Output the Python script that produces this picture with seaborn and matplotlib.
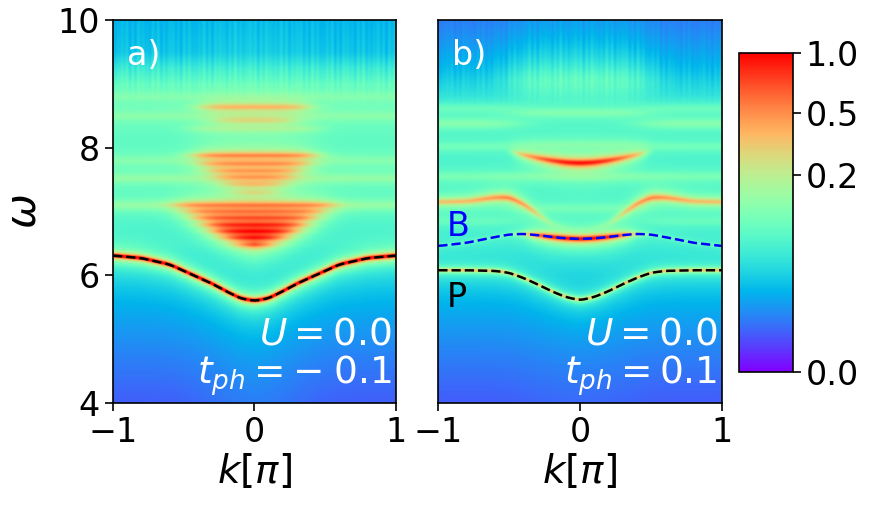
import numpy as np
import seaborn as sns
import matplotlib.pyplot as plt
from matplotlib.colors import PowerNorm

# band positions at |k| (units of pi); both panels are symmetric in k
k_half = [0.0, 0.1, 0.2, 0.3, 0.4, 0.5, 0.6, 0.8, 1.0]

# panel a) t_ph = -0.1
a_polaron = [5.60, 5.64, 5.75, 5.87, 5.97, 6.07, 6.17, 6.27, 6.31]
a_fan_low_omega = [6.48, 6.59, 6.69, 6.79, 6.90, 7.00, 7.10]
a_fan_low_width = [0.08, 0.17, 0.25, 0.32, 0.40, 0.47, 0.55]
a_fan_low_amp = [0.60, 0.70, 0.70, 0.60, 0.45, 0.33, 0.32]
a_fan_mid_omega = [7.30, 7.43, 7.54, 7.64, 7.75, 7.88]
a_fan_mid_width = [0.13, 0.19, 0.25, 0.30, 0.36, 0.41]
a_fan_mid_amp = [0.14, 0.20, 0.24, 0.27, 0.30, 0.38]
a_fan_top_omega = [8.30, 8.43, 8.64]
a_fan_top_width = [0.45, 0.25, 0.36]
a_fan_top_amp = [0.07, 0.16, 0.28]
a_flat_omega = [7.10, 7.52, 7.80, 8.50, 8.80]
a_flat_amp = [0.08, 0.07, 0.05, 0.05, 0.04]

# panel b) t_ph = 0.1
b_polaron = [5.61, 5.66, 5.75, 5.86, 5.96, 6.04, 6.07, 6.08, 6.08]
b_bipolaron = [6.57, 6.58, 6.60, 6.63, 6.65, 6.64, 6.60, 6.51, 6.46]
b_bipolaron_amp = [1.00, 1.00, 0.90, 0.60, 0.14, 0.04, 0.03, 0.03, 0.03]
b_upper = [6.72, 6.74, 6.80, 6.96, 7.12, 7.22, 7.22, 7.16, 7.15]
b_upper_amp = [0.02, 0.03, 0.06, 0.20, 0.38, 0.48, 0.42, 0.32, 0.30]
b_arc = [7.76, 7.77, 7.80, 7.84, 7.89, 7.95, 8.00, 8.00, 8.00]
b_arc_amp = [0.90, 0.85, 0.70, 0.50, 0.30, 0.0, 0.0, 0.0, 0.0]
b_edge_omega = [8.62, 8.38, 8.02, 7.55, 6.85]
b_edge_amp = [0.04, 0.07, 0.04, 0.05, 0.03]
b_center_omega = [9.05, 8.55, 8.05, 7.55, 7.05]
b_center_amp = [0.05, 0.06, 0.05, 0.06, 0.04]
b_center_gamma = [0.25, 0.07, 0.07, 0.07, 0.07]

# smooth background level against omega
bg_omega = [4.0, 4.5, 5.0, 5.5, 6.0, 6.5, 7.0, 7.5, 8.0, 8.5, 9.0, 9.25, 9.5, 10.0]
a_bg = [0.0005, 0.0013, 0.003, 0.006, 0.012, 0.035, 0.045, 0.052, 0.058, 0.065,
        0.065, 0.035, 0.014, 0.010]
b_bg = [0.0005, 0.0013, 0.003, 0.006, 0.012, 0.032, 0.038, 0.038, 0.038, 0.034,
        0.018, 0.010, 0.006, 0.002]

k = np.linspace(-1, 1, 401)
w = np.linspace(4, 10, 601)
K, W = np.meshgrid(k, w)


def curve(vals):
    # values at |k| onto the k grid, lightly smoothed
    y = np.interp(np.abs(k), k_half, vals)
    pad = 12
    win = np.hanning(2 * pad + 1)
    win /= win.sum()
    return np.convolve(np.pad(y, pad, mode='edge'), win, mode='valid')


def lor(e, g):
    return g ** 2 / ((W - e) ** 2 + g ** 2)


def edge(width, s=0.05):
    return 1.0 / (1.0 + np.exp((np.abs(K) - width) / s))


def background(levels):
    return np.exp(np.interp(W, bg_omega, np.log(levels)))


# streaky texture of the noisy high-energy part
top = 1.0 / (1.0 + np.exp(-(W - 8.9) / 0.12))
streaks = 1 + top * (0.22 * np.sin(41 * K + 0.7) * np.sin(97 * K + 2.1)
                     + 0.14 * np.sin(173 * K))

# ---- panel a field
A = background(a_bg) * streaks
E = curve(a_polaron)[None, :]
A += 1.3 * lor(E, 0.024) + 0.015 * lor(E, 0.25)
for om, wd, am in zip(a_fan_low_omega, a_fan_low_width, a_fan_low_amp):
    A += am * lor(om, 0.045) * edge(wd)
for om, wd, am in zip(a_fan_mid_omega, a_fan_mid_width, a_fan_mid_amp):
    A += am * lor(om, 0.045) * edge(wd)
for om, wd, am in zip(a_fan_top_omega, a_fan_top_width, a_fan_top_amp):
    A += am * lor(om, 0.05) * edge(wd)
for om, am in zip(a_flat_omega, a_flat_amp):
    A += am * lor(om, 0.075)

# ---- panel b field
B = background(b_bg) * streaks
P = curve(b_polaron)[None, :]
B += 0.35 * lor(P, 0.022) + 0.012 * lor(P, 0.25)
Bb = curve(b_bipolaron)[None, :]
B += curve(b_bipolaron_amp)[None, :] * lor(Bb, 0.035)
B += curve(b_upper_amp)[None, :] * lor(curve(b_upper)[None, :], 0.045)
B += curve(b_arc_amp)[None, :] * lor(curve(b_arc)[None, :], 0.045)
for om, am in zip(b_edge_omega, b_edge_amp):
    B += am * lor(om, 0.075) * (1 - edge(0.45, 0.07))
for om, am, g in zip(b_center_omega, b_center_amp, b_center_gamma):
    B += am * lor(om, g) * edge(0.45, 0.07) * streaks

sns.set_theme(style="ticks", rc={'text.color': 'black', 'axes.labelcolor': 'black',
                                 'xtick.color': 'black', 'ytick.color': 'black',
                                 'axes.edgecolor': 'black'})
plt.rcParams['font.family'] = ['DejaVu Sans']
plt.rcParams['mathtext.fontset'] = 'dejavusans'
fs = 24

fig = plt.figure(figsize=(8.72, 5.07), dpi=100)
ax_a = fig.add_axes([0.1296, 0.2051, 0.3245, 0.7554])
ax_b = fig.add_axes([0.5026, 0.2051, 0.3250, 0.7554])
cax = fig.add_axes([0.8478, 0.2669, 0.0612, 0.6290])

norm = PowerNorm(0.3, vmin=0, vmax=1)
for ax, field in [(ax_a, A), (ax_b, B)]:
    im = ax.imshow(field, origin='lower', extent=[-1, 1, 4, 10], aspect='auto',
                   cmap='rainbow', norm=norm, interpolation='bilinear')
    ax.set_xlim(-1, 1)
    ax.set_ylim(4, 10)
    ax.set_xticks([-1, 0, 1])
    ax.set_xticklabels(['\u22121', '0', '1'])
    ax.set_xlabel(r'$k[\pi]$', fontsize=28, labelpad=2)
    ax.tick_params(labelsize=fs, length=6, width=1.2)
    for sp in ax.spines.values():
        sp.set_linewidth(1.2)

# dashed guides on the band centres
sns.lineplot(x=k, y=curve(a_polaron), ax=ax_a, color='black', linestyle='--', lw=1.8)
sns.lineplot(x=k, y=curve(b_polaron), ax=ax_b, color='black', linestyle='--', lw=1.8)
sns.lineplot(x=k, y=curve(b_bipolaron), ax=ax_b, color='blue', linestyle='--', lw=1.8)

ax_a.set_yticks([4, 6, 8, 10])
ax_a.set_ylabel(r'$\omega$', fontsize=30, labelpad=9)
ax_b.set_yticks([])
ax_b.set_ylabel('')

ax_a.text(0.05, 0.95, 'a)', transform=ax_a.transAxes, color='white', fontsize=fs,
          ha='left', va='top')
ax_b.text(0.05, 0.95, 'b)', transform=ax_b.transAxes, color='white', fontsize=fs,
          ha='left', va='top')
ax_a.text(0.985, 0.012, '$U=0.0$\n' + r'$t_{ph}=-\;0.1$', transform=ax_a.transAxes,
          color='white', fontsize=27, ha='right', va='bottom', linespacing=1.05)
ax_b.text(0.985, 0.012, '$U=0.0$\n$t_{ph}=0.1$', transform=ax_b.transAxes,
          color='white', fontsize=27, ha='right', va='bottom', linespacing=1.05)
ax_b.text(-0.94, 6.62, 'B', color='blue', fontsize=fs, ha='left', va='baseline')
ax_b.text(-0.94, 5.50, 'P', color='black', fontsize=fs, ha='left', va='baseline')

cb = fig.colorbar(im, cax=cax, ticks=[0.0, 0.2, 0.5, 1.0], format='%.1f')
cb.ax.tick_params(labelsize=fs, length=6, width=1.2)
cb.outline.set_linewidth(1.2)

fig.savefig('out.png', dpi=100)
